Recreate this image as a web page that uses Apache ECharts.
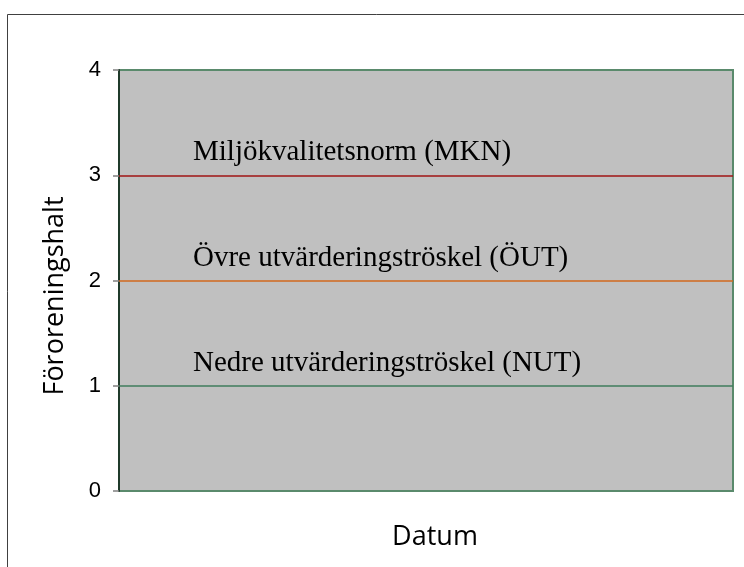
<!DOCTYPE html>
<html>
<head>
<meta charset="utf-8">
<script src="https://cdn.jsdelivr.net/npm/echarts@6/dist/echarts.min.js"></script>
<style>
  html, body { margin: 0; padding: 0; background: #fff; }
  #chart { width: 744px; height: 567px; }
</style>
</head>
<body>
<div id="chart"></div>
<script>
// data
var yMin = 0;
var yMax = 4;
var yStep = 1;
var thresholdNames = ['Nedre utvärderingströskel (NUT)', 'Övre utvärderingströskel (ÖUT)', 'Miljökvalitetsnorm (MKN)'];
var thresholdValues = [1, 2, 3];
var yAxisTitle = 'Föroreningshalt';
var xAxisTitle = 'Datum';

var lineColors = ['#3f7d5c', '#d2691e', '#a01414'];

var chart = document.getElementById('chart');
var myChart = echarts.init(chart);

var marks = [];
for (var i = 0; i < thresholdValues.length; i++) {
  marks.push({
    name: thresholdNames[i],
    yAxis: thresholdValues[i],
    lineStyle: { color: lineColors[i], width: 1.5, type: 'solid' }
  });
}

option = {
  animation: false,
  backgroundColor: '#fff',
  grid: {
    left: 119,
    top: 70,
    right: 11,
    bottom: 76,
    show: true,
    backgroundColor: '#c0c0c0',
    borderColor: '#5a8a6c',
    borderWidth: 2
  },
  xAxis: {
    type: 'value',
    min: 0,
    max: 1,
    show: false
  },
  yAxis: {
    type: 'value',
    min: yMin,
    max: yMax,
    interval: yStep,
    axisLine: { show: true, lineStyle: { color: '#1f3a2a', width: 2 } },
    axisTick: { show: true, length: 6, lineStyle: { color: '#808080', width: 1.5 } },
    axisLabel: {
      color: '#000',
      fontSize: 22,
      fontFamily: 'Liberation Sans, Arial, sans-serif',
      margin: 18
    },
    splitLine: { show: false }
  },
  series: [
    {
      type: 'line',
      data: [],
      silent: true,
      markLine: {
        silent: true,
        symbol: ['none', 'none'],
        label: {
          show: true,
          position: 'insideStartTop',
          distance: [74, 8],
          formatter: '{b}',
          color: '#000',
          fontSize: 29,
          fontFamily: 'Liberation Serif, Times New Roman, serif'
        },
        data: marks
      }
    }
  ],
  graphic: [
    {
      type: 'rect',
      shape: { x: 7.5, y: 14.5, width: 800, height: 600 },
      style: { fill: 'none', stroke: '#404040', lineWidth: 1 }
    },
    {
      type: 'text',
      x: 55,
      y: 296,
      rotation: Math.PI / 2,
      style: {
        text: yAxisTitle,
        fill: '#000',
        fontSize: 27,
        fontFamily: 'Open Sans, sans-serif',
        textAlign: 'center',
        textVerticalAlign: 'middle'
      }
    },
    {
      type: 'text',
      x: 435,
      y: 537,
      style: {
        text: xAxisTitle,
        fill: '#000',
        fontSize: 27,
        fontFamily: 'Open Sans, sans-serif',
        textAlign: 'center',
        textVerticalAlign: 'middle'
      }
    }
  ]
};

myChart.setOption(option);
</script>
</body>
</html>
